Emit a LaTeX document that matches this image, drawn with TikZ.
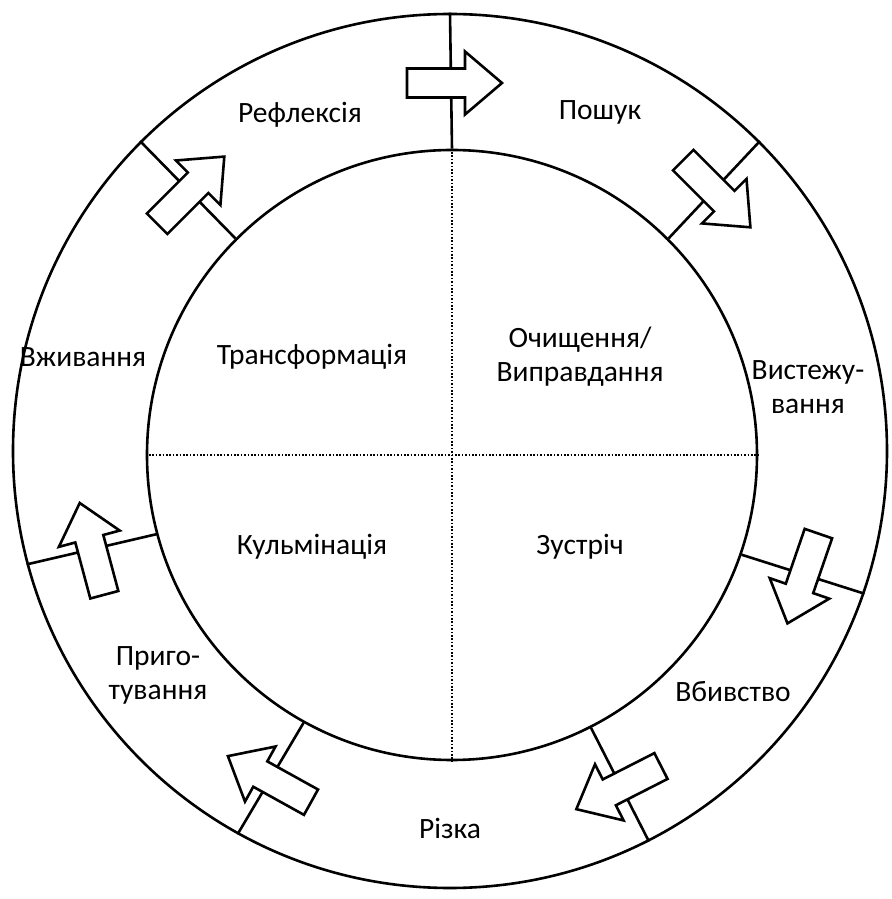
\documentclass[tikz,border=0pt]{standalone}
\usepackage{fontspec}
\setmainfont{Carlito}
\begin{document}
\begin{tikzpicture}[x=1pt,y=1pt,line width=2.6pt,
  lbl/.style={font=\fontsize{29.5}{34}\selectfont,align=center,inner sep=0pt},
  quad/.style={line width=1.6pt,dash pattern=on 1.6pt off 1.8pt},
  divider/.style={draw=black},
  blockarrow/.style={draw=black,fill=white,line join=miter}]
\useasboundingbox (-452,-444) rectangle (439,455);
\coordinate (c) at (0,0);
\node[circle,draw,minimum size=874pt,inner sep=0pt,line width=2.6pt] (outer) at (-2,4) {};
\node[circle,draw,minimum size=610pt,inner sep=0pt,line width=2.6pt] (inner) at (c) {};
% quadrant lines
\draw[quad] (inner.north) -- (inner.south);
\draw[quad] (inner.west) -- (inner.east);
% dividers
\foreach \a in {90,45,-19,-63,-119,-165,135}{
  \draw[divider] (inner.\a) -- (outer.\a);
}
% block arrows
\foreach \a in {90,45,-19,-63,-119,-165,135}{
  \draw[blockarrow,shift={(\a:372)},rotate=\a-90]
    (-45,-14.5) -- (13,-14.5) -- (13,-31.5) -- (50,0) -- (13,31.5) -- (13,14.5) -- (-45,14.5) -- cycle;
}
% labels
\node[lbl] (poshuk) at (148,343) {Пошук};
\node[lbl] (refl) at (-152,340) {Рефлексія};
\node[lbl] (vyst) at (356,68) {Вистежу-\\вання};
\node[lbl] (vzhyv) at (-369,98) {Вживання};
\node[lbl] (transf) at (-140,98) {Трансформація};
\node[lbl] (ochysh) at (128,98) {Очищення/\\Виправдання};
\node[lbl] (kulm) at (-140,-92) {Кульмінація};
\node[lbl] (zustr) at (128,-92) {Зустріч};
\node[lbl] (pryh) at (-294,-220) {Приго-\\тування};
\node[lbl] (vbyv) at (281,-237) {Вбивство};
\node[lbl] (rizka) at (-2,-373) {Різка};
\end{tikzpicture}
\end{document}
